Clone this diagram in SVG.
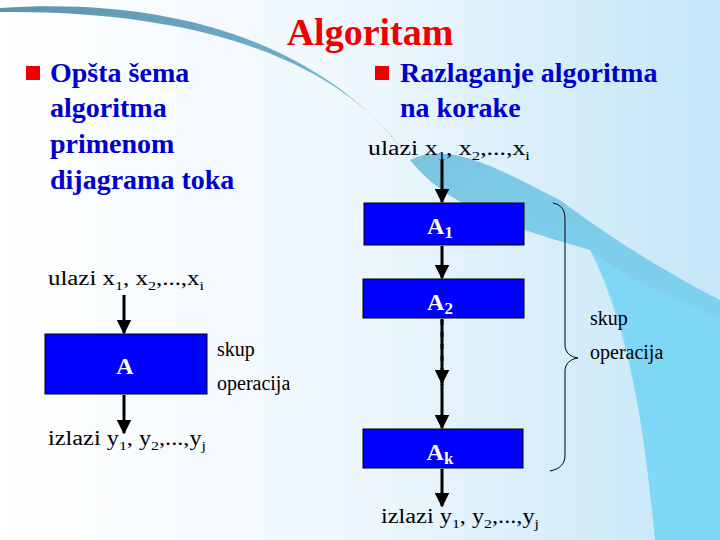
<svg xmlns="http://www.w3.org/2000/svg" width="720" height="540" viewBox="0 0 720 540">
<defs>
<linearGradient id="bg" x1="0" y1="0" x2="1" y2="0"><stop offset="0" stop-color="#ffffff"/><stop offset="0.5" stop-color="#eef7fd"/><stop offset="1" stop-color="#c4e6f8"/></linearGradient>
<linearGradient id="sw" x1="0" y1="0" x2="1" y2="1"><stop offset="0" stop-color="#2a6f8f"/><stop offset="0.5" stop-color="#5bbde0"/><stop offset="1" stop-color="#6fd3f5"/></linearGradient>
<marker id="ah" viewBox="0 0 10 10" refX="9" refY="5" markerWidth="5" markerHeight="5" orient="auto"><path d="M0,0 L10,5 L0,10 z" fill="#000"/></marker>
<style>
.h{font-family:"Liberation Serif",serif;font-weight:bold;font-size:28px;fill:#0000cc}
.l{font-family:"Liberation Serif",serif;font-size:20px;fill:#000}
.s{font-size:13px}
.bx{fill:#0000ff;stroke:#000;stroke-width:1}
.bt{font-family:"Liberation Serif",serif;font-weight:bold;font-size:24px;fill:#fff;text-anchor:middle}
.c{stroke:#000;stroke-width:3;fill:none;marker-end:url(#ah)}
</style>
</defs>
<rect width="720" height="540" fill="url(#bg)"/>
<path d="M0,8 C200,-5 340,60 410,160 C450,210 520,230 590,250 C620,300 640,380 655,540 L720,540 L720,300 C660,270 600,230 560,200 C500,170 450,140 410,160 C350,70 220,10 0,12 z" fill="url(#sw)" opacity="0.75"/>
<path d="M590,250 C640,290 690,300 720,320 L720,540 L655,540 C645,420 625,320 590,250 z" fill="#7dd8f6" opacity="0.8"/>
<text x="370" y="45" font-family="Liberation Serif,serif" font-weight="bold" font-size="38" fill="#ee0000" text-anchor="middle">Algoritam</text>
<rect x="26" y="66" width="14" height="14" fill="#ee0000"/>
<rect x="375" y="66" width="14" height="14" fill="#ee0000"/>
<text class="h" x="50" y="82">Opšta šema</text>
<text class="h" x="50" y="117">algoritma</text>
<text class="h" x="50" y="153">primenom</text>
<text class="h" x="50" y="189">dijagrama toka</text>
<text class="h" x="400" y="82">Razlaganje algoritma</text>
<text class="h" x="400" y="117">na korake</text>
<g id="conn">
<line class="c" x1="124" y1="295" x2="124" y2="333"/>
<line class="c" x1="124" y1="395" x2="124" y2="433"/>
<line class="c" x1="442" y1="160" x2="442" y2="202"/>
<line class="c" x1="442" y1="246" x2="442" y2="278"/>
<line class="c" x1="442" y1="319" x2="442" y2="383"/>
<line stroke="#000" stroke-width="3" stroke-dasharray="5,7" x1="442" y1="320" x2="442" y2="385"/>
<line class="c" x1="442" y1="384" x2="442" y2="428"/>
<line class="c" x1="442" y1="469" x2="442" y2="506"/>
<path d="M553,203 C562,205 565,210 565,220 L565,345 C565,352 570,357 578,358 C570,359 565,364 565,371 L565,455 C565,464 560,469 550,471" stroke="#000" stroke-width="1" fill="none"/>
</g>
<text class="l" x="48" y="285" textLength="156" lengthAdjust="spacingAndGlyphs">ulazi x<tspan class="s" dy="5">1</tspan><tspan dy="-5">, x</tspan><tspan class="s" dy="5">2</tspan><tspan dy="-5">,...,x</tspan><tspan class="s" dy="5">i</tspan></text>
<text class="l" x="48" y="445" textLength="158" lengthAdjust="spacingAndGlyphs">izlazi y<tspan class="s" dy="5">1</tspan><tspan dy="-5">, y</tspan><tspan class="s" dy="5">2</tspan><tspan dy="-5">,...,y</tspan><tspan class="s" dy="5">j</tspan></text>
<text class="l" x="368" y="155" textLength="162" lengthAdjust="spacingAndGlyphs">ulazi x<tspan class="s" dy="5">1</tspan><tspan dy="-5">, x</tspan><tspan class="s" dy="5">2</tspan><tspan dy="-5">,...,x</tspan><tspan class="s" dy="5">i</tspan></text>
<text class="l" x="381" y="523" textLength="158" lengthAdjust="spacingAndGlyphs">izlazi y<tspan class="s" dy="5">1</tspan><tspan dy="-5">, y</tspan><tspan class="s" dy="5">2</tspan><tspan dy="-5">,...,y</tspan><tspan class="s" dy="5">j</tspan></text>
<text class="l" x="217" y="356">skup</text>
<text class="l" x="217" y="390">operacija</text>
<text class="l" x="590" y="325">skup</text>
<text class="l" x="590" y="359">operacija</text>
<g id="A"><rect class="bx" x="45" y="334" width="162" height="60"/><text class="bt" x="125" y="374">A</text></g>
<g id="A1"><rect class="bx" x="364" y="203" width="160" height="42"/><text class="bt" x="440" y="234">A<tspan font-size="17" dy="4">1</tspan></text></g>
<g id="A2"><rect class="bx" x="363" y="279" width="161" height="39"/><text class="bt" x="440" y="310">A<tspan font-size="17" dy="4">2</tspan></text></g>
<g id="Ak"><rect class="bx" x="363" y="429" width="160" height="39"/><text class="bt" x="440" y="460">A<tspan font-size="17" dy="4">k</tspan></text></g>
</svg>
